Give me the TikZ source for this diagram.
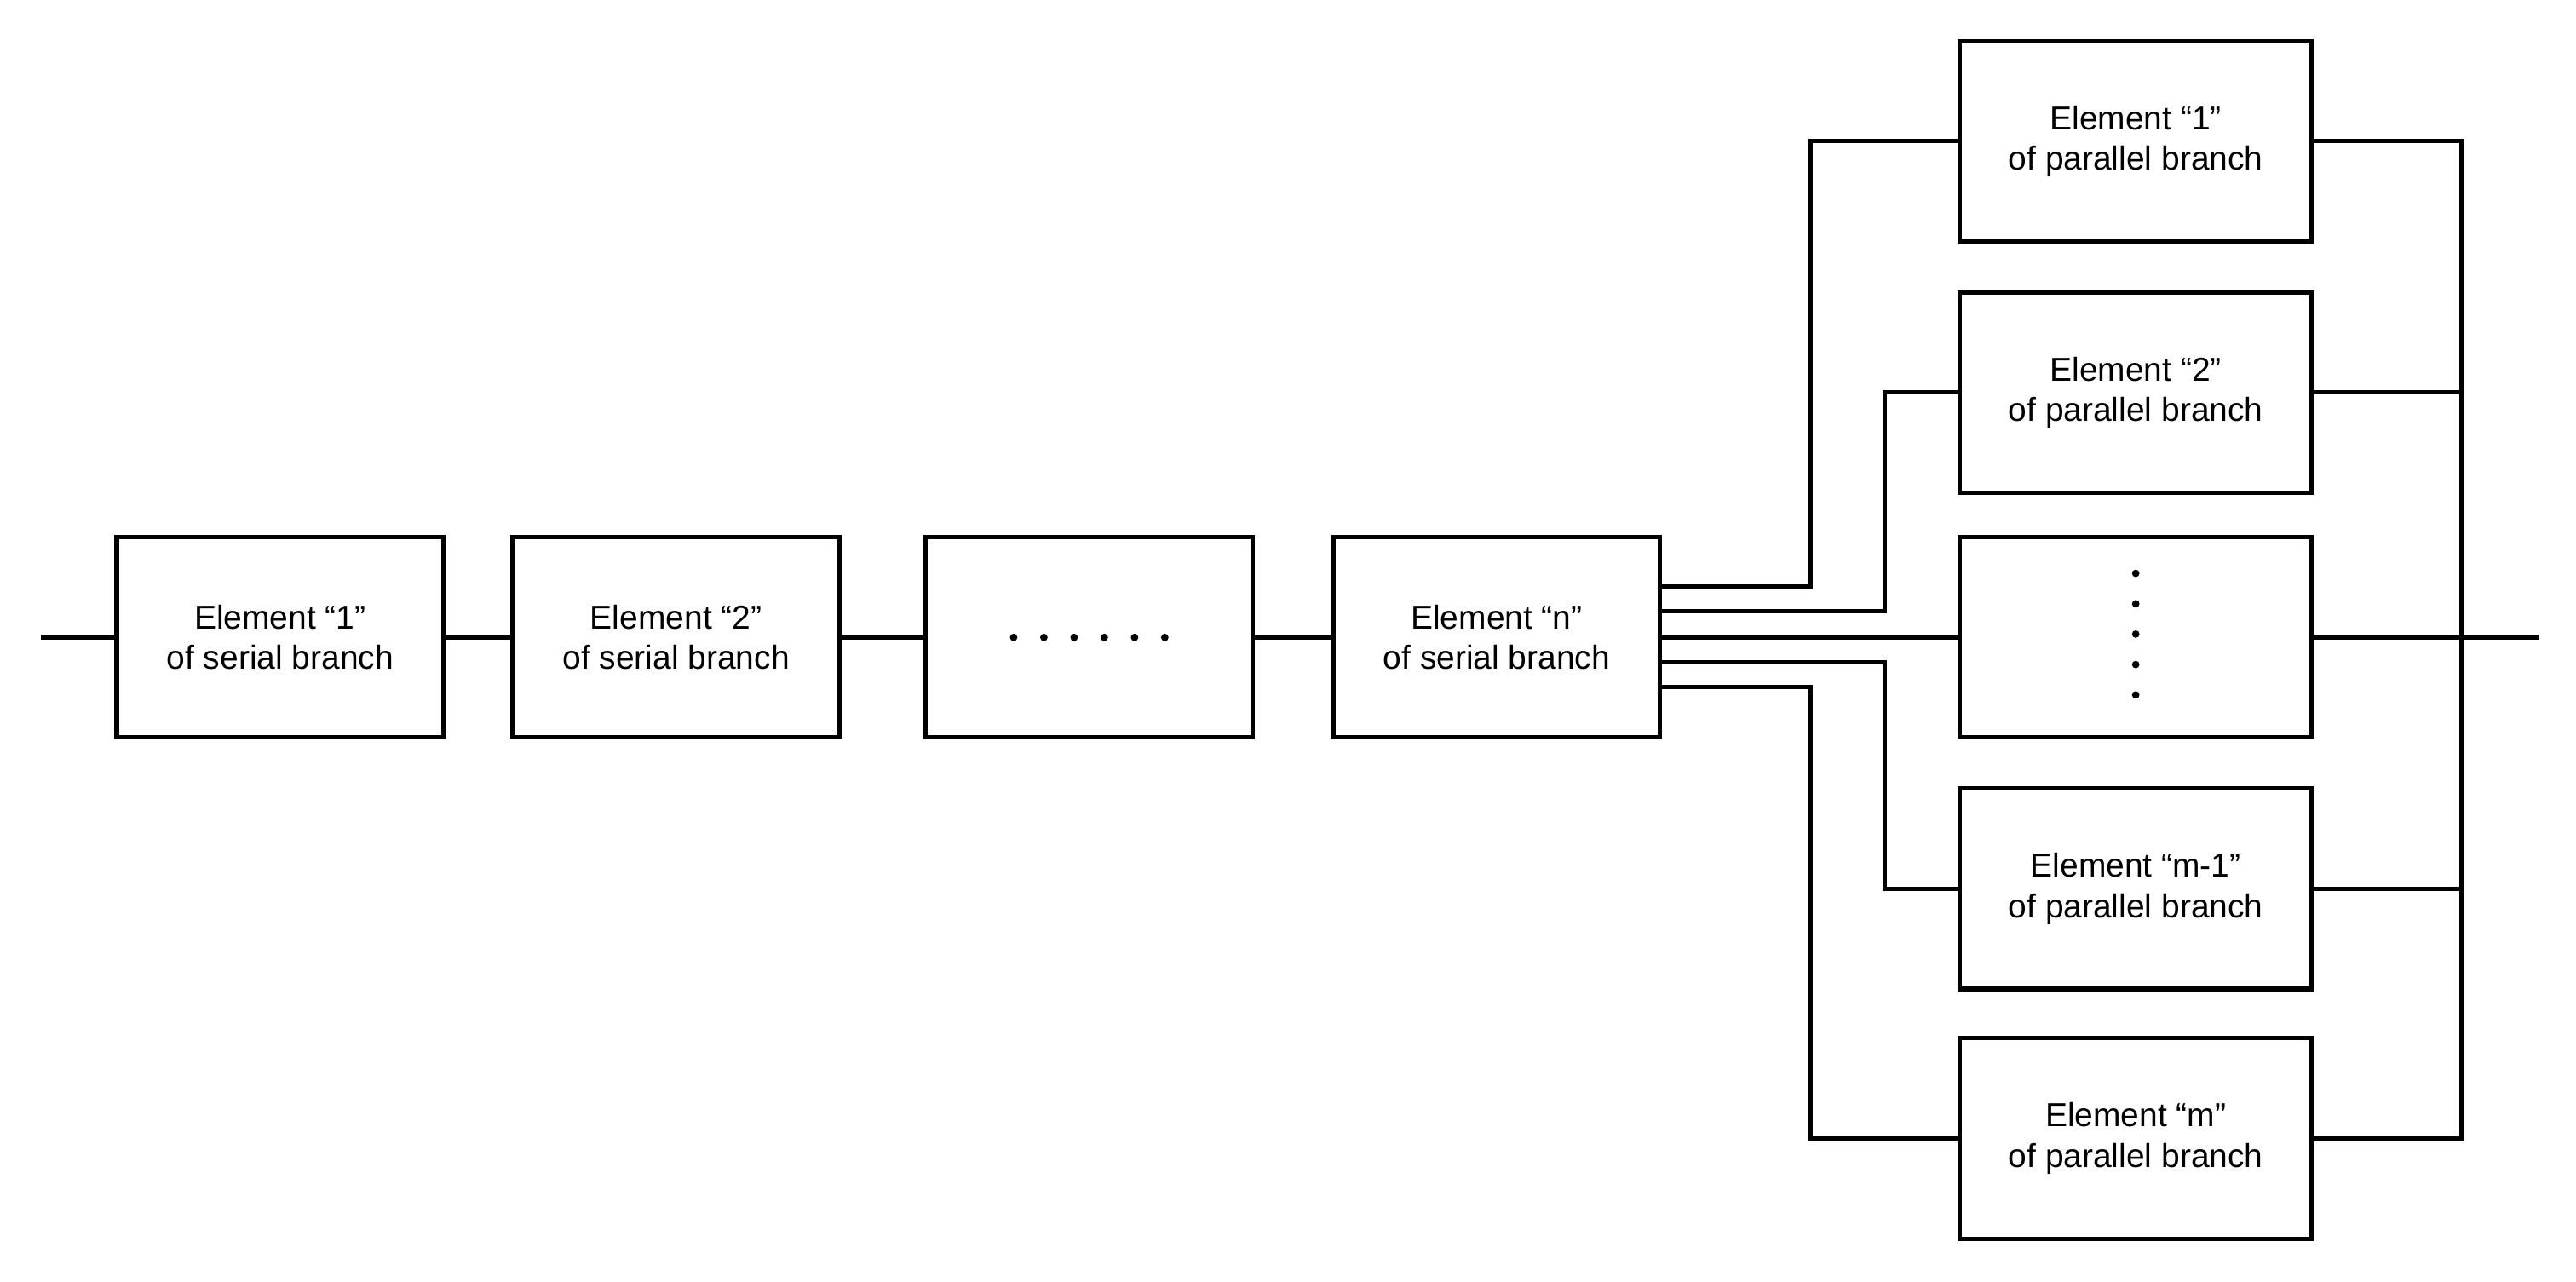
\documentclass[tikz,border=0pt]{standalone}
\usepackage{fontspec}
\setmainfont{Liberation Sans}
\usetikzlibrary{positioning}
\begin{document}
\begin{tikzpicture}[
        x=0.02cm, y=-0.02cm,
        ser/.style={rectangle, draw, line width=1.5pt, minimum width=3.98cm, minimum height=2.44cm, align=center, font=\fontsize{11.5}{14}\selectfont},
        par/.style={ser, minimum width=4.28cm},
        wire/.style={line width=1.5pt},
        dot/.style={circle, fill, inner sep=0pt, minimum size=2.6pt}
    ]
    \useasboundingbox (0,0) rectangle (1568,780);

    % Serial branch
    \node (s1) [ser] at (170.5,388) {Element \textquotedblleft1\textquotedblright\\of serial branch};
    \node (s2) [ser] at (411.5,388) {Element \textquotedblleft2\textquotedblright\\of serial branch};
    \node (s3) [ser] at (663,388) {};
    \node (sn) [ser] at (911,388) {Element \textquotedblleft n\textquotedblright\\of serial branch};
    \foreach \i in {0,...,5}
        \node [dot] at (617+18.4*\i,388) {};

    % Parallel branch
    \node (p1) [par] at (1300,86) {Element \textquotedblleft1\textquotedblright\\of parallel branch};
    \node (p2) [par] at (1300,239) {Element \textquotedblleft2\textquotedblright\\of parallel branch};
    \node (p3) [par] at (1300,388) {};
    \node (pm1) [par] at (1300,541) {Element \textquotedblleft m-1\textquotedblright\\of parallel branch};
    \node (pm) [par] at (1300,693) {Element \textquotedblleft m\textquotedblright\\of parallel branch};
    \foreach \i in {0,...,4}
        \node [dot] at (1300,349+18.5*\i) {};

    \coordinate (in) at (25,388);
    \coordinate (out) at (1545,388);
    \coordinate (bt) at (1498,86);
    \coordinate (bb) at (1498,693);

    % Connections
    \draw [wire] (in) -- (s1.west);
    \draw [wire] (s1) -- (s2);
    \draw [wire] (s2) -- (s3);
    \draw [wire] (s3) -- (sn);
    \draw [wire] ([yshift=0.62cm]sn.east) -| (1102,86) -- (p1.west);
    \draw [wire] ([yshift=0.32cm]sn.east) -| (1147,239) -- (p2.west);
    \draw [wire] (sn) -- (p3);
    \draw [wire] ([yshift=-0.3cm]sn.east) -| (1147,541) -- (pm1.west);
    \draw [wire] ([yshift=-0.6cm]sn.east) -| (1102,693) -- (pm.west);
    \draw [wire] (p1.east) -- (bt) -- (bb) -- (pm.east);
    \draw [wire] (p2.east) -- (1498,239);
    \draw [wire] (pm1.east) -- (1498,541);
    \draw [wire] (p3.east) -- (out);
\end{tikzpicture}
\end{document}
